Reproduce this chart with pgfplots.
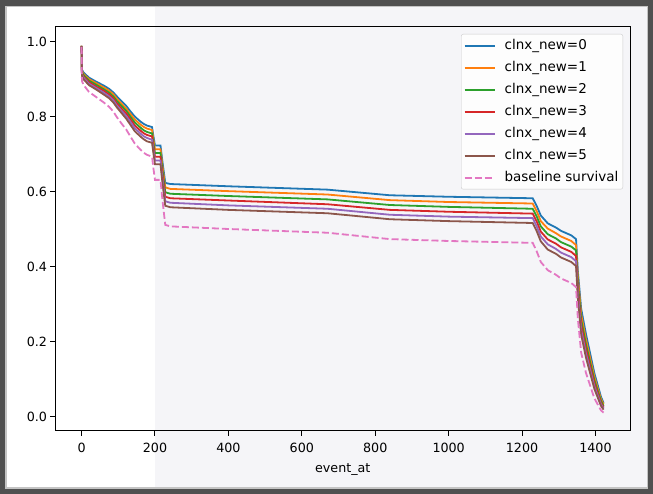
\documentclass[border=0pt]{standalone}
\usepackage{fontspec}
\setmainfont{DejaVu Sans}
\usepackage{pgfplots}
\usepackage{pgfplotstable}
\pgfplotsset{compat=1.18}
\definecolor{C0}{HTML}{1F77B4}
\definecolor{C1}{HTML}{FF7F0E}
\definecolor{C2}{HTML}{2CA02C}
\definecolor{C3}{HTML}{D62728}
\definecolor{C4}{HTML}{9467BD}
\definecolor{C5}{HTML}{8C564B}
\definecolor{C6}{HTML}{E377C2}
\definecolor{framedark}{HTML}{505050}
\definecolor{frameline}{HTML}{C4C4C4}
\definecolor{bgright}{HTML}{F5F5F8}
\definecolor{legedge}{HTML}{CCCCCC}

\pgfplotstableread{
t b c0 c1 c2 c3 c4 c5
0 0.985 0.989 0.989 0.988 0.988 0.987 0.987
1 0.895 0.925 0.922 0.919 0.915 0.912 0.909
5 0.885 0.918 0.914 0.911 0.907 0.904 0.900
20 0.866 0.904 0.900 0.896 0.892 0.888 0.884
40 0.852 0.893 0.889 0.885 0.880 0.876 0.872
60 0.838 0.883 0.878 0.873 0.869 0.864 0.859
75 0.826 0.874 0.869 0.864 0.859 0.854 0.849
87 0.813 0.864 0.859 0.853 0.848 0.843 0.837
95 0.800 0.855 0.849 0.843 0.837 0.831 0.826
110 0.780 0.840 0.833 0.827 0.820 0.814 0.808
122 0.765 0.828 0.821 0.815 0.808 0.801 0.794
133 0.747 0.814 0.807 0.800 0.793 0.786 0.778
145 0.728 0.800 0.792 0.784 0.776 0.769 0.761
160 0.712 0.787 0.779 0.771 0.763 0.755 0.747
170 0.703 0.780 0.772 0.763 0.755 0.747 0.739
178 0.698 0.776 0.768 0.759 0.751 0.743 0.734
192 0.693 0.772 0.764 0.755 0.747 0.738 0.730
196 0.660 0.746 0.737 0.727 0.718 0.709 0.700
200 0.631 0.723 0.713 0.703 0.693 0.683 0.673
215 0.631 0.723 0.713 0.703 0.693 0.683 0.673
220 0.580 0.682 0.670 0.659 0.648 0.637 0.626
228 0.511 0.623 0.611 0.598 0.586 0.574 0.562
242 0.507 0.620 0.607 0.594 0.582 0.570 0.558
400 0.500 0.614 0.601 0.588 0.576 0.563 0.551
670 0.490 0.605 0.592 0.579 0.566 0.554 0.542
840 0.473 0.590 0.577 0.564 0.551 0.538 0.526
1000 0.468 0.586 0.572 0.559 0.546 0.533 0.521
1229 0.463 0.582 0.568 0.554 0.541 0.529 0.516
1240 0.440 0.561 0.547 0.533 0.520 0.507 0.494
1251 0.412 0.536 0.521 0.507 0.493 0.480 0.467
1270 0.390 0.515 0.501 0.486 0.472 0.459 0.445
1292 0.378 0.504 0.489 0.475 0.461 0.447 0.434
1306 0.368 0.495 0.480 0.465 0.451 0.437 0.424
1334 0.356 0.483 0.468 0.453 0.439 0.425 0.412
1347 0.345 0.473 0.457 0.443 0.428 0.414 0.401
1352 0.260 0.387 0.372 0.356 0.342 0.328 0.314
1361 0.170 0.287 0.272 0.257 0.244 0.231 0.218
1374 0.116 0.220 0.205 0.192 0.180 0.168 0.157
1397 0.048 0.115 0.105 0.096 0.088 0.080 0.073
1415 0.016 0.052 0.046 0.041 0.036 0.032 0.028
1422 0.010 0.036 0.032 0.028 0.024 0.021 0.018
}\surv

\begin{document}
\begin{tikzpicture}
\fill[framedark] (0pt,0pt) rectangle (653pt,494pt);
\fill[frameline] (5pt,5pt) rectangle (648pt,488pt);
\fill[white] (6.5pt,6.5pt) rectangle (646.5pt,486.5pt);
\fill[bgright] (155pt,6.5pt) rectangle (646.5pt,486.5pt);
\begin{axis}[
  at={(55.5pt,63pt)}, anchor=south west,
  scale only axis, width=574.5pt, height=404pt,
  xmin=-71, xmax=1494, ymin=-0.039, ymax=1.039,
  axis line style={line width=1pt, black},
  xtick={0,200,...,1400}, ytick={0,0.2,0.4,0.6,0.8,1.0},
  xtick pos=bottom, ytick pos=left,
  tick align=outside, major tick length=5pt,
  tick style={line width=1pt, black},
  /pgf/number format/assume math mode=true,
  x tick label style={/pgf/number format/1000 sep={}, font=\fontsize{12.7}{15}\selectfont, yshift=-4pt},
  y tick label style={/pgf/number format/.cd, fixed, fixed zerofill, precision=1, /tikz/.cd, font=\fontsize{12.7}{15}\selectfont},
  xlabel={event\_at},
  xlabel style={font=\fontsize{12.7}{15}\selectfont, yshift=-4pt},
  legend cell align=left,
  legend style={at={(rel axis cs:1,1)}, anchor=north east, xshift=-7pt, yshift=-7pt,
    draw=legedge, fill=white, fill opacity=0.8, text opacity=1, rounded corners=2pt,
    font=\fontsize{13.5}{16}\selectfont, row sep=4pt, column sep=7pt, inner sep=2.5pt,
    nodes={inner sep=2pt, text height=10.5pt, text depth=3.5pt}},
  legend image code/.code={\draw[#1] (0pt,0pt) -- (30pt,0pt);},
  every axis plot/.append style={line width=1.8pt},
]
\addplot[C0] table[x=t,y=c0] {\surv};
\addlegendentry{clnx\_new=0}
\addplot[C1] table[x=t,y=c1] {\surv};
\addlegendentry{clnx\_new=1}
\addplot[C2] table[x=t,y=c2] {\surv};
\addlegendentry{clnx\_new=2}
\addplot[C3] table[x=t,y=c3] {\surv};
\addlegendentry{clnx\_new=3}
\addplot[C4] table[x=t,y=c4] {\surv};
\addlegendentry{clnx\_new=4}
\addplot[C5] table[x=t,y=c5] {\surv};
\addlegendentry{clnx\_new=5}
\addplot[C6, dash pattern=on 7pt off 3pt] table[x=t,y=b] {\surv};
\addlegendentry{baseline survival}
\end{axis}
\end{tikzpicture}
\end{document}
